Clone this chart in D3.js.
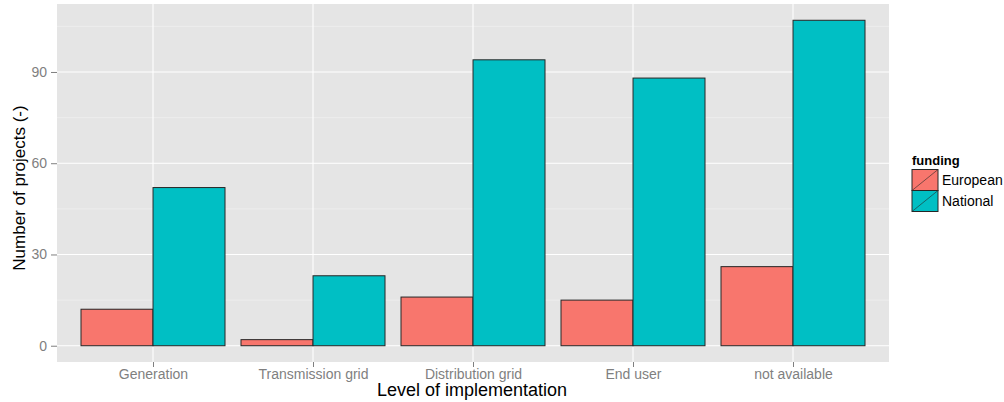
<!DOCTYPE html>
<html>
<head>
<meta charset="utf-8">
<script src="https://cdn.jsdelivr.net/npm/d3@7"></script>
<style>
  body { margin: 0; background: #fff; }
  svg text { font-family: "Liberation Sans", Arial, sans-serif; }
</style>
</head>
<body>
<div id="chart"></div>
<script>
// data
const levels = ['Generation', 'Transmission grid', 'Distribution grid', 'End user', 'not available'];
const fundings = ['European', 'National'];
const european = [12, 2, 16, 15, 26];
const national = [52, 23, 94, 88, 107];
const yTicks = [0, 30, 60, 90];
const yMinor = [15, 45, 75, 105];

const colours = {European: '#F8766D', National: '#00BFC4'};

const width = 1004, height = 402;
const panel = {left: 57, right: 889, top: 4, bottom: 362};

const svg = d3.select('#chart')
  .append('svg')
  .attr('width', width)
  .attr('height', height);

const rows = levels.map((l, i) => ({level: l, European: european[i], National: national[i]}));

const yMax = d3.max(national.concat(european));
const pad = yMax * 0.05;
const y = d3.scaleLinear()
  .domain([-pad, yMax + pad])
  .range([panel.bottom, panel.top]);

// ggplot discrete scale: 0.6 expansion each side
const x = d3.scaleLinear()
  .domain([1 - 0.6, levels.length + 0.6])
  .range([panel.left, panel.right]);

const barW = (x(1.9) - x(1)) / 2;

// panel background
svg.append('rect')
  .attr('x', panel.left).attr('y', panel.top)
  .attr('width', panel.right - panel.left)
  .attr('height', panel.bottom - panel.top)
  .attr('fill', '#E5E5E5');

// minor grid
svg.selectAll('line.minor')
  .data(yMinor)
  .enter().append('line')
  .attr('x1', panel.left).attr('x2', panel.right)
  .attr('y1', d => y(d)).attr('y2', d => y(d))
  .attr('stroke', '#F2F2F2').attr('stroke-width', 0.6);

// major grid
svg.selectAll('line.hmajor')
  .data(yTicks)
  .enter().append('line')
  .attr('x1', panel.left).attr('x2', panel.right)
  .attr('y1', d => y(d)).attr('y2', d => y(d))
  .attr('stroke', '#fff').attr('stroke-width', 1.1);

svg.selectAll('line.vmajor')
  .data(levels)
  .enter().append('line')
  .attr('x1', (d, i) => x(i + 1)).attr('x2', (d, i) => x(i + 1))
  .attr('y1', panel.top).attr('y2', panel.bottom)
  .attr('stroke', '#fff').attr('stroke-width', 1.1);

// bars
const groups = svg.selectAll('g.level')
  .data(rows)
  .enter().append('g');

groups.selectAll('rect')
  .data((d, i) => fundings.map((f, j) => ({f: f, v: d[f], i: i, j: j})))
  .enter().append('rect')
  .attr('x', d => x(d.i + 1) - barW + d.j * barW)
  .attr('y', d => y(d.v))
  .attr('width', barW)
  .attr('height', d => y(0) - y(d.v))
  .attr('fill', d => colours[d.f])
  .attr('stroke', '#262626')
  .attr('stroke-width', 1);

// y axis
const yAxis = svg.append('g')
  .attr('transform', `translate(${panel.left},0)`)
  .call(d3.axisLeft(y).tickValues(yTicks).tickSize(6).tickPadding(4));
yAxis.select('.domain').remove();
yAxis.selectAll('line').attr('stroke', '#7F7F7F');
yAxis.selectAll('text').attr('fill', '#7F7F7F').style('font-size', '14px');

// x axis
const xAxis = svg.append('g')
  .attr('transform', `translate(0,${panel.bottom})`)
  .call(d3.axisBottom(x).tickValues(d3.range(1, levels.length + 1))
    .tickFormat(d => levels[d - 1]).tickSize(5).tickPadding(2));
xAxis.select('.domain').remove();
xAxis.selectAll('line').attr('stroke', '#7F7F7F');
xAxis.selectAll('text').attr('fill', '#7F7F7F').style('font-size', '14px');

// titles
svg.append('text')
  .attr('x', 472)
  .attr('y', 396)
  .attr('text-anchor', 'middle')
  .style('font-size', '18px')
  .text('Level of implementation');

svg.append('text')
  .attr('transform', 'translate(25,188) rotate(-90)')
  .attr('text-anchor', 'middle')
  .style('font-size', '17px')
  .text('Number of projects (-)');

// legend
const legend = svg.append('g').attr('transform', 'translate(912,0)');
legend.append('text')
  .attr('x', 0).attr('y', 165)
  .style('font-size', '13px')
  .style('font-weight', 'bold')
  .text('funding');

const key = legend.selectAll('g.key')
  .data(fundings)
  .enter().append('g')
  .attr('transform', (d, i) => `translate(0,${169.5 + i * 21})`);

key.append('rect')
  .attr('width', 26).attr('height', 21)
  .attr('fill', d => colours[d])
  .attr('stroke', '#262626').attr('stroke-width', 1);
key.append('line')
  .attr('x1', 0).attr('y1', 21).attr('x2', 26).attr('y2', 0)
  .attr('stroke', '#262626').attr('stroke-width', 0.6);
key.append('text')
  .attr('x', 30).attr('y', 15.5)
  .style('font-size', '14px')
  .text(d => d);
</script>
</body>
</html>
